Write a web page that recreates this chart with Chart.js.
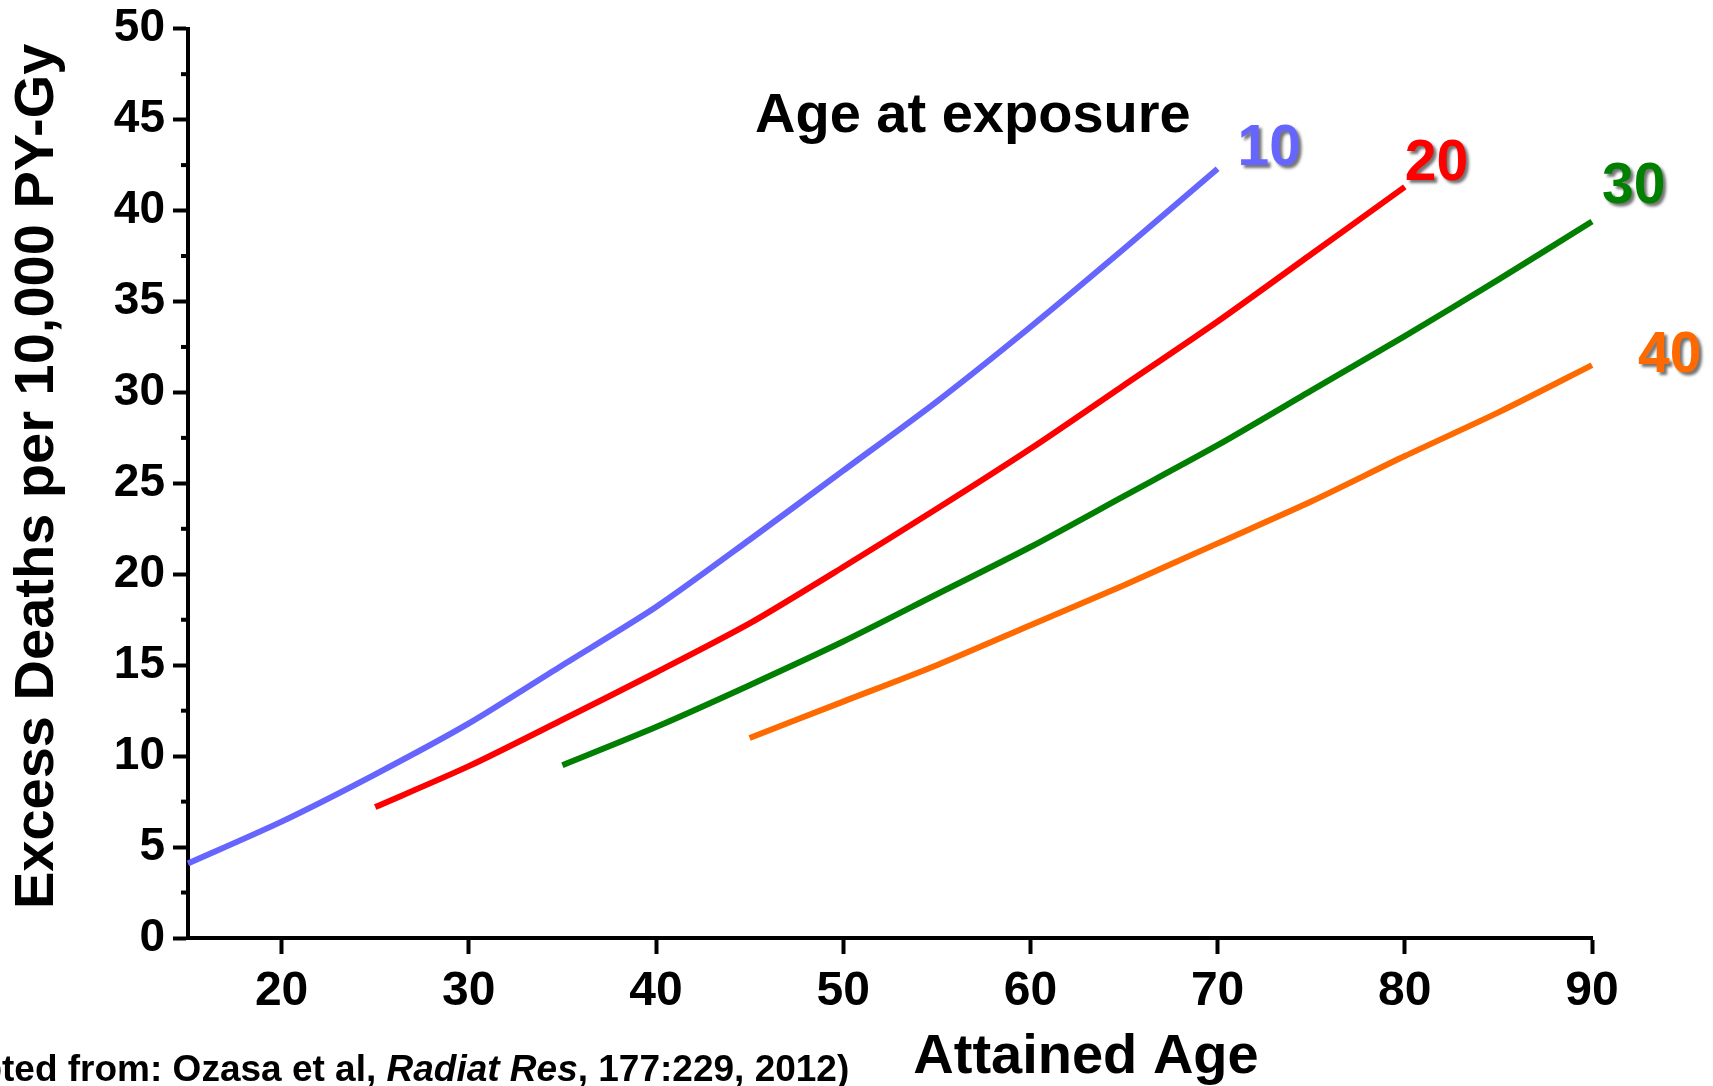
<!DOCTYPE html>
<html>
<head>
<meta charset="utf-8">
<script src="https://cdn.jsdelivr.net/npm/chart.js@4/dist/chart.umd.min.js"></script>
<style>
  html, body { margin: 0; padding: 0; background: #ffffff; }
  #wrap { width: 1713px; height: 1086px; position: relative; }
</style>
</head>
<body>
<div id="wrap"><canvas id="c" width="1713" height="1086"></canvas></div>
<script>
// ---- data ----
const ages10   = [15, 20, 25, 30, 35, 40, 45, 50, 55, 60, 65, 70];
const deaths10 = [4.1, 6.4, 9.0, 11.8, 15.0, 18.2, 21.9, 25.7, 29.5, 33.6, 37.9, 42.3];

const ages20   = [25, 30, 35, 40, 45, 50, 55, 60, 65, 70, 75, 80];
const deaths20 = [7.2, 9.45, 12.0, 14.6, 17.3, 20.4, 23.6, 26.9, 30.4, 33.9, 37.6, 41.3];

const ages30   = [35, 40, 45, 50, 55, 60, 65, 70, 75, 80, 85, 90];
const deaths30 = [9.5, 11.6, 13.9, 16.3, 18.9, 21.5, 24.3, 27.1, 30.1, 33.1, 36.2, 39.4];

const ages40   = [45, 50, 55, 60, 65, 70, 75, 80, 85, 90];
const deaths40 = [11.0, 13.0, 15.0, 17.2, 19.4, 21.7, 24.0, 26.5, 28.9, 31.5];

const exposureAges = ['10', '20', '30', '40'];
const xTickValues  = [20, 30, 40, 50, 60, 70, 80, 90];
const yTickValues  = [0, 5, 10, 15, 20, 25, 30, 35, 40, 45, 50];
const yMinorValues = [2.5, 7.5, 12.5, 17.5, 22.5, 27.5, 32.5, 37.5, 42.5, 47.5];

const legendTitle = 'Age at exposure';
const xTitle = 'Attained Age';
const yTitle = 'Excess Deaths per 10,000 PY-Gy';
const citeA = '(Adapted from: Ozasa et al, ';
const citeB = 'Radiat Res';
const citeC = ', 177:229, 2012)';

// ---- styles ----
const colors = ['#6666ff', '#ff0000', '#007f00', '#ff6a00'];
const FONT = '"Liberation Sans", Arial, Helvetica, sans-serif';
const labelOffsets = [[20, -4], [0, -7], [10, -18], [46, 7]];

function pts(xs, ys) { return xs.map((x, i) => ({ x: x, y: ys[i] })); }

const seriesX = [ages10, ages20, ages30, ages40];
const seriesY = [deaths10, deaths20, deaths30, deaths40];

const datasets = exposureAges.map((lab, i) => ({
  label: lab,
  data: pts(seriesX[i], seriesY[i]),
  borderColor: colors[i],
  backgroundColor: colors[i],
  borderWidth: 6,
  pointRadius: 0,
  tension: 0.25,
  fill: false,
  clip: 8
}));

const decorPlugin = {
  id: 'decor',
  afterDraw(chart) {
    const ctx = chart.ctx;
    const ys = chart.scales.y;
    const ca = chart.chartArea;
    ctx.save();

    // minor ticks on y axis
    ctx.strokeStyle = '#000';
    ctx.lineWidth = 4;
    yMinorValues.forEach(v => {
      const y = ys.getPixelForValue(v);
      ctx.beginPath();
      ctx.moveTo(ca.left - 7, y);
      ctx.lineTo(ca.left, y);
      ctx.stroke();
    });

    // legend title
    ctx.fillStyle = '#000';
    ctx.font = 'bold 56px ' + FONT;
    ctx.textAlign = 'left';
    ctx.textBaseline = 'alphabetic';
    ctx.fillText(legendTitle, 755, 132);

    // series labels with drop shadow
    chart.data.datasets.forEach((ds, i) => {
      const meta = chart.getDatasetMeta(i);
      const last = meta.data[meta.data.length - 1];
      ctx.save();
      ctx.font = 'bold 57px ' + FONT;
      ctx.fillStyle = colors[i];
      ctx.shadowColor = 'rgba(0,0,0,0.55)';
      ctx.shadowOffsetX = 3;
      ctx.shadowOffsetY = 3;
      ctx.shadowBlur = 3;
      ctx.textAlign = 'left';
      ctx.fillText(ds.label, last.x + labelOffsets[i][0], last.y + labelOffsets[i][1]);
      ctx.restore();
    });

    // x axis title
    ctx.fillStyle = '#000';
    ctx.font = 'bold 56px ' + FONT;
    ctx.textAlign = 'center';
    ctx.fillText(xTitle, 1086, 1073);

    // y axis title
    ctx.save();
    ctx.translate(53, (ca.top + ca.bottom) / 2 - 7);
    ctx.rotate(-Math.PI / 2);
    ctx.textAlign = 'center';
    ctx.font = 'bold 56px ' + FONT;
    ctx.fillText(yTitle, 0, 0);
    ctx.restore();

    // citation (clipped on the left as in the original)
    ctx.textAlign = 'left';
    ctx.font = 'bold 37px ' + FONT;
    let x = 2 - ctx.measureText('(Adap').width;
    ctx.fillText(citeA, x, 1081);
    x += ctx.measureText(citeA).width;
    ctx.font = 'italic bold 37px ' + FONT;
    ctx.fillText(citeB, x, 1081);
    x += ctx.measureText(citeB).width;
    ctx.font = 'bold 37px ' + FONT;
    ctx.fillText(citeC, x, 1081);

    ctx.restore();
  }
};

new Chart(document.getElementById('c'), {
  type: 'line',
  data: { datasets: datasets },
  options: {
    responsive: false,
    animation: false,
    devicePixelRatio: 1,
    layout: { padding: { left: 0, top: 23, right: 121, bottom: 0 } },
    plugins: { legend: { display: false }, tooltip: { enabled: false } },
    scales: {
      x: {
        type: 'linear',
        min: 15, max: 90,
        afterBuildTicks: s => { s.ticks = xTickValues.map(v => ({ value: v })); },
        afterFit: s => { s.height = 148; },
        ticks: { color: '#000', padding: 9, font: { family: FONT, size: 48, weight: 'bold', lineHeight: 1.2 }, maxRotation: 0 },
        grid: { drawOnChartArea: false, drawTicks: true, tickLength: 16, tickWidth: 4, tickColor: '#000' },
        border: { display: true, color: '#000', width: 4 }
      },
      y: {
        type: 'linear',
        min: 0, max: 50,
        afterBuildTicks: s => { s.ticks = yTickValues.map(v => ({ value: v })); },
        afterFit: s => { s.width = 188; },
        ticks: { color: '#000', padding: 8, font: { family: FONT, size: 46, weight: 'bold', lineHeight: 0.9 } },
        grid: { drawOnChartArea: false, drawTicks: true, tickLength: 15, tickWidth: 4, tickColor: '#000' },
        border: { display: true, color: '#000', width: 4 }
      }
    }
  },
  plugins: [decorPlugin]
});
</script>
</body>
</html>
